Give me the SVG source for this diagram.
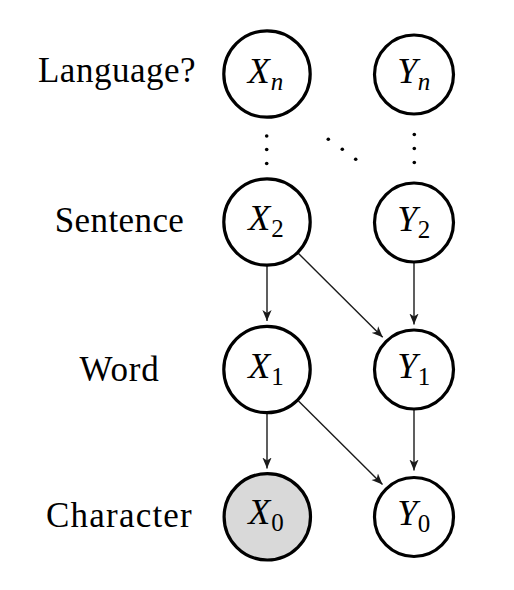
<svg xmlns="http://www.w3.org/2000/svg" width="514" height="590" viewBox="0 0 514 590">
<style>
.bg{fill:#ffffff}
.node circle{fill:#ffffff;stroke:#000000;stroke-width:3.2}
.node.obs circle{fill:#d9d9d9}
.edge{stroke:#1a1a1a;stroke-width:1.4;fill:none;marker-end:url(#arr)}
.dot{fill:#000000}
</style>
<defs>
<marker id="arr" markerUnits="userSpaceOnUse" markerWidth="12" markerHeight="10" viewBox="-11 -5 12 10" refX="0" refY="0" orient="auto">
<path d="M0,0 L-11,-4.6 L-8,0 L-11,4.6 Z" fill="#1a1a1a"/>
</marker>
</defs>
<rect class="bg" x="0" y="0" width="514" height="590"/>

<g id="row-labels">
<text x="117" y="81.7" font-family="Liberation Serif" font-size="35" text-anchor="middle" letter-spacing="0.5">Language?</text>
<text x="119.5" y="232.3" font-family="Liberation Serif" font-size="35" text-anchor="middle" letter-spacing="0.4">Sentence</text>
<text x="119.5" y="380.7" font-family="Liberation Serif" font-size="35" text-anchor="middle" letter-spacing="0.8">Word</text>
<text x="119.5" y="527" font-family="Liberation Serif" font-size="35" text-anchor="middle" letter-spacing="1.2">Character</text>
</g>

<g id="connectors">
<line class="edge" x1="267" y1="265.5" x2="267" y2="321"/>
<line class="edge" x1="414" y1="262" x2="414" y2="324.5"/>
<line class="edge" x1="298.3" y1="253.3" x2="382.7" y2="337.3"/>
<line class="edge" x1="267" y1="413" x2="267" y2="468.5"/>
<line class="edge" x1="414" y1="410" x2="414" y2="470.5"/>
<line class="edge" x1="298.5" y1="401" x2="382.5" y2="484.5"/>
</g>

<g id="ellipsis-dots">
<circle class="dot" cx="266.7" cy="136" r="1.8"/>
<circle class="dot" cx="266.7" cy="149.5" r="1.8"/>
<circle class="dot" cx="266.7" cy="163.5" r="1.8"/>
<circle class="dot" cx="414.3" cy="134.5" r="1.8"/>
<circle class="dot" cx="414.3" cy="148.5" r="1.8"/>
<circle class="dot" cx="414.3" cy="162.5" r="1.8"/>
<circle class="dot" cx="328.3" cy="139.3" r="1.8"/>
<circle class="dot" cx="342.3" cy="149.3" r="1.8"/>
<circle class="dot" cx="355.7" cy="159.3" r="1.8"/>
</g>

<g id="Xn" class="node">
<circle cx="267" cy="74" r="43.2"/>
<text x="266" y="82.5" font-family="Liberation Serif" font-size="36" text-anchor="middle" letter-spacing="1"><tspan font-style="italic">X</tspan><tspan font-size="25" font-style="italic" dy="7">n</tspan></text>
</g>
<g id="Yn" class="node">
<circle cx="414" cy="74.5" r="39.5"/>
<text x="414" y="82.5" font-family="Liberation Serif" font-size="36" text-anchor="middle" letter-spacing="0.5"><tspan font-style="italic">Y</tspan><tspan font-size="25" font-style="italic" dy="7">n</tspan></text>
</g>
<g id="X2" class="node">
<circle cx="267" cy="222" r="43.2"/>
<text x="266.5" y="230" font-family="Liberation Serif" font-size="36" text-anchor="middle" letter-spacing="1"><tspan font-style="italic">X</tspan><tspan font-size="25" dy="7">2</tspan></text>
</g>
<g id="Y2" class="node">
<circle cx="414" cy="222.5" r="39.5"/>
<text x="414" y="230.5" font-family="Liberation Serif" font-size="36" text-anchor="middle" letter-spacing="0.5"><tspan font-style="italic">Y</tspan><tspan font-size="25" dy="7">2</tspan></text>
</g>
<g id="X1" class="node">
<circle cx="267" cy="369.5" r="43.2"/>
<text x="266.5" y="377.5" font-family="Liberation Serif" font-size="36" text-anchor="middle" letter-spacing="1"><tspan font-style="italic">X</tspan><tspan font-size="25" dy="7">1</tspan></text>
</g>
<g id="Y1" class="node">
<circle cx="414" cy="369.5" r="39.5"/>
<text x="414" y="377.5" font-family="Liberation Serif" font-size="36" text-anchor="middle" letter-spacing="0.5"><tspan font-style="italic">Y</tspan><tspan font-size="25" dy="7">1</tspan></text>
</g>
<g id="X0" class="node obs">
<circle cx="267.3" cy="516.8" r="43.2"/>
<text x="266.5" y="524" font-family="Liberation Serif" font-size="36" text-anchor="middle" letter-spacing="1"><tspan font-style="italic">X</tspan><tspan font-size="25" dy="7">0</tspan></text>
</g>
<g id="Y0" class="node">
<circle cx="414" cy="517" r="39.5"/>
<text x="414" y="525" font-family="Liberation Serif" font-size="36" text-anchor="middle" letter-spacing="0.5"><tspan font-style="italic">Y</tspan><tspan font-size="25" dy="7">0</tspan></text>
</g>
</svg>
